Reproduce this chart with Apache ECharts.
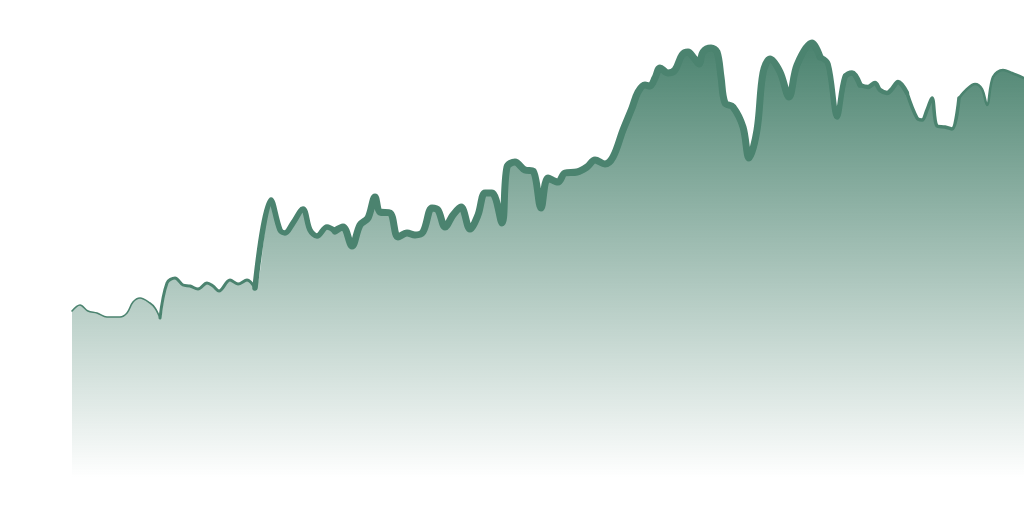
<!DOCTYPE html>
<html>
<head>
<meta charset="utf-8">
<title>Area trend</title>
<script src="https://cdn.jsdelivr.net/npm/echarts@6/dist/echarts.min.js"></script>
<style>
  html, body { margin: 0; padding: 0; background: #ffffff; }
  #chart { width: 1024px; height: 512px; }
</style>
</head>
<body>
<div id="chart"></div>
<script>
// time positions (x) of the sampled points
const days = [
  0, 8, 16, 25, 35, 48, 55, 61, 68, 78, 83, 88,
  95, 103, 111, 118, 126, 135, 141, 147, 158, 166, 175, 183,
  199, 208, 213, 221, 231, 238, 245, 255, 263,
  271, 280, 288, 296, 303, 308, 318, 326, 335, 343, 351, 360, 366, 373,
  381, 389, 398, 406, 413, 420, 430, 435, 443, 453, 461, 469, 476, 486,
  493, 505, 515, 523, 533, 541, 551, 560, 566, 573, 578, 583, 588, 596,
  603, 610, 616, 622, 627, 631, 639, 645, 649, 653, 661, 671, 677, 685,
  691, 698, 708, 717, 725, 740, 748,
  756, 765, 773, 780, 788,
  796, 803, 808, 815, 820, 826, 835,
  845, 850, 855, 860, 865, 873, 880, 887,
  895, 903, 910, 915, 921, 931, 940, 952
]

// values at each position
const values = [
  167, 173, 167, 165, 161, 161, 165, 176, 180, 175, 170, 160,
  195, 200, 193, 192, 189, 195, 192, 187, 198, 194, 198, 190,
  278, 248, 245, 255, 269, 248, 242, 251, 247,
  251, 232, 253, 260, 281, 266, 265, 241, 245, 243, 246, 270, 268, 251,
  263, 271, 249, 263, 285, 285, 255, 311, 316, 308, 307, 270, 300, 296,
  305, 306, 311, 318, 314, 321, 348, 370, 386, 393, 392, 400, 410, 405,
  408, 423, 426, 420, 414, 426, 430, 426, 401, 375, 371, 351, 320, 348,
  405, 419, 406, 381, 413, 435, 421,
  414, 361, 401, 405, 393,
  391, 395, 388, 385, 389, 396, 385,
  360, 358, 368, 380, 352, 351, 349, 380,
  389, 394, 389, 373, 401, 408, 405, 400
]

// stroke width changes along the line: [from day, to day, width]
const strokeRanges = [
  [0, 88, 1.6],
  [88, 183, 3],
  [183, 263, 5.5],
  [263, 748, 7],
  [748, 788, 5.5],
  [788, 835, 4.5],
  [835, 887, 3.5],
  [887, 952, 2.5]
]

const lineColor = '#4b836f'

const points = days.map((d, i) => [d, values[i]])

const chart = echarts.init(document.getElementById('chart'))

const series = [
  {
    type: 'line',
    data: points,
    smooth: 0.35,
    symbol: 'none',
    lineStyle: { width: 0 },
    areaStyle: {
      opacity: 1,
      color: new echarts.graphic.LinearGradient(0, 0, 0, 1, [
        { offset: 0, color: 'rgba(75,131,111,1)' },
        { offset: 1, color: 'rgba(75,131,111,0)' }
      ])
    },
    z: 1
  }
]

// one stroke series per width range
strokeRanges.forEach(([from, to, w]) => {
  series.push({
    type: 'line',
    data: points.filter(p => p[0] >= from && p[0] <= to),
    smooth: 0.35,
    symbol: 'none',
    lineStyle: { color: lineColor, width: w, join: 'round', cap: 'round' },
    z: 2
  })
})

chart.setOption({
  animation: false,
  grid: { left: 72, right: 0, top: 0, bottom: 34 },
  xAxis: { type: 'value', min: 0, max: 952, show: false },
  yAxis: { type: 'value', min: 0, max: 478, show: false },
  series
})
</script>
</body>
</html>
